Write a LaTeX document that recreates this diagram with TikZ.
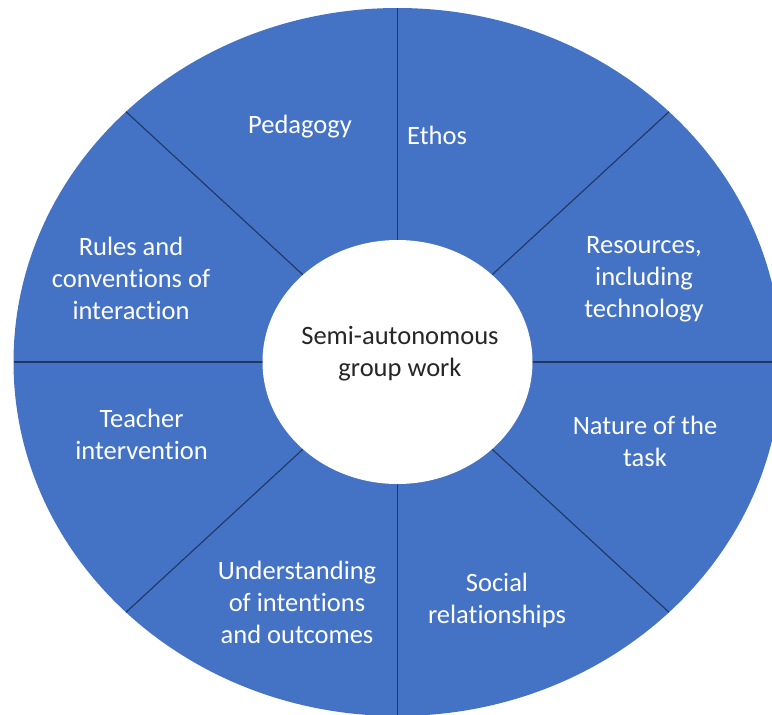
\documentclass[tikz,border=0pt]{standalone}
\usepackage{fontspec}
\setmainfont{Carlito}[Ligatures=NoCommon]
\usetikzlibrary{shapes.geometric,calc}
\definecolor{wheelblue}{HTML}{4472C4}
\definecolor{divline}{HTML}{1F3864}
\definecolor{hubtext}{HTML}{262626}
\tikzset{
  wheel/.style={fill=wheelblue},
  divider/.style={draw=divline, line width=1.1pt},
  hub/.style={ellipse, fill=white, minimum width=270pt, minimum height=244pt, inner sep=0pt},
  hubtext/.style={text=hubtext, align=center, inner sep=0pt, font=\fontsize{26.5}{32}\selectfont},
  seglabel/.style={text=white, align=center, inner sep=0pt, font=\fontsize{26.5}{32}\selectfont}
}
\begin{document}
\begin{tikzpicture}[x=1pt,y=-1pt]
\useasboundingbox (0,0) rectangle (772,715);
\clip (0,0) rectangle (772,715);
\coordinate (c) at (397.5,362);
% outer wheel
\fill[wheel] (c) ellipse [x radius=384, y radius=354];
% rim points
\coordinate (rT)  at (397.5,8);
\coordinate (rB)  at (397.5,716);
\coordinate (rL)  at (13.5,362);
\coordinate (rR)  at (781.5,362);
\coordinate (rUL) at (126,111.7);
\coordinate (rUR) at (669,111.7);
\coordinate (rLR) at (669,612.3);
\coordinate (rLL) at (126,612.3);
% dividers
\foreach \p in {rT,rB,rL,rR,rUL,rUR,rLR,rLL}
  \draw[divider] (c) -- (\p);
% hub
\node[hub] (hubnode) at (c) {};
\node[hubtext] (hubtxt) at (400,354) {Semi-autonomous\\group work};
% segment labels
\node[seglabel] (ped) at (300,127) {Pedagogy};
\node[seglabel] (eth) at (437,135) {Ethos};
\node[seglabel] (rul) at (131,278) {Rules and\\conventions of\\interaction};
\node[seglabel] (res) at (644,279) {Resources,\\including\\technology};
\node[seglabel] (tea) at (141.5,434) {Teacher\\intervention};
\node[seglabel] (nat) at (645,441) {Nature of the\\task};
\node[seglabel] (und) at (297,602) {Understanding\\of intentions\\and outcomes};
\node[seglabel] (soc) at (497,600) {Social\\relationships};
\end{tikzpicture}
\end{document}
